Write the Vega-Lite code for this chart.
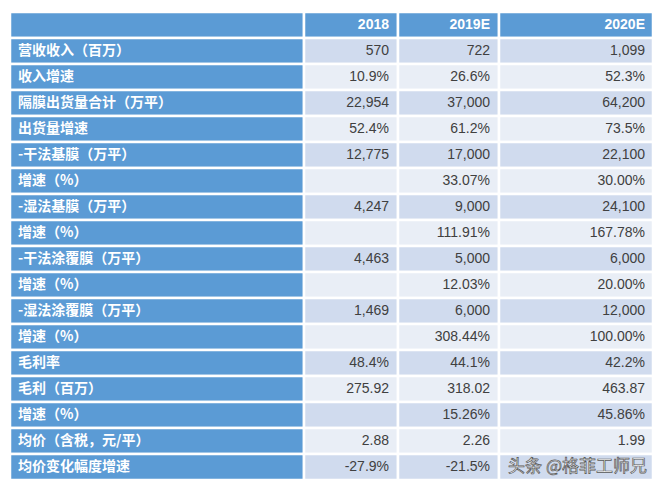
{
  "$schema": "https://vega.github.io/schema/vega-lite/v6.json",
  "padding": {"left": 8, "top": 10, "right": 0, "bottom": 0},
  "background": "white",
  "bounds": "flush",
  "config": {"view": {"stroke": null}, "concat": {"spacing": 0}},
  "spacing": 0,
  "datasets": {
    "rows": [
      {"r": 0, "label": "", "v2018": "2018", "v2019": "2019E", "v2020": "2020E"},
      {"r": 1, "label": "营收收入（百万）", "v2018": "570", "v2019": "722", "v2020": "1,099"},
      {"r": 2, "label": "收入增速", "v2018": "10.9%", "v2019": "26.6%", "v2020": "52.3%"},
      {"r": 3, "label": "隔膜出货量合计（万平）", "v2018": "22,954", "v2019": "37,000", "v2020": "64,200"},
      {"r": 4, "label": "出货量增速", "v2018": "52.4%", "v2019": "61.2%", "v2020": "73.5%"},
      {"r": 5, "label": "-干法基膜（万平）", "v2018": "12,775", "v2019": "17,000", "v2020": "22,100"},
      {"r": 6, "label": "增速（%）", "v2018": "", "v2019": "33.07%", "v2020": "30.00%"},
      {"r": 7, "label": "-湿法基膜（万平）", "v2018": "4,247", "v2019": "9,000", "v2020": "24,100"},
      {"r": 8, "label": "增速（%）", "v2018": "", "v2019": "111.91%", "v2020": "167.78%"},
      {"r": 9, "label": "-干法涂覆膜（万平）", "v2018": "4,463", "v2019": "5,000", "v2020": "6,000"},
      {"r": 10, "label": "增速（%）", "v2018": "", "v2019": "12.03%", "v2020": "20.00%"},
      {"r": 11, "label": "-湿法涂覆膜（万平）", "v2018": "1,469", "v2019": "6,000", "v2020": "12,000"},
      {"r": 12, "label": "增速（%）", "v2018": "", "v2019": "308.44%", "v2020": "100.00%"},
      {"r": 13, "label": "毛利率", "v2018": "48.4%", "v2019": "44.1%", "v2020": "42.2%"},
      {"r": 14, "label": "毛利（百万）", "v2018": "275.92", "v2019": "318.02", "v2020": "463.87"},
      {"r": 15, "label": "增速（%）", "v2018": "", "v2019": "15.26%", "v2020": "45.86%"},
      {"r": 16, "label": "均价（含税，元/平）", "v2018": "2.88", "v2019": "2.26", "v2020": "1.99"},
      {"r": 17, "label": "均价变化幅度增速", "v2018": "-27.9%", "v2019": "-21.5%", "v2020": ""}
    ],
    "mark": [{"r": 17, "text": "头条 @格菲工师兄"}]
  },
  "hconcat": [
    {
      "width": 294, "height": 468,
      "data": {"name": "rows"},
      "encoding": {"y": {"field": "r", "type": "ordinal", "axis": null, "scale": {"paddingInner": 0, "paddingOuter": 0}}},
      "layer": [
        {"mark": {"type": "rect", "fill": "#5B9BD5", "stroke": "white", "strokeWidth": 2.5},
         "encoding": {"x": {"datum": 0, "type": "quantitative", "scale": {"domain": [0, 1]}, "axis": null}, "x2": {"datum": 1}}},
        {"mark": {"type": "text", "align": "left", "baseline": "middle", "dx": 8, "font": "Noto Sans CJK SC", "fontWeight": "bold", "fontSize": 14, "color": "white"},
         "encoding": {"x": {"datum": 0, "type": "quantitative"}, "text": {"field": "label"}}}
      ]
    },
    {
      "width": 94, "height": 468,
      "data": {"name": "rows"},
      "encoding": {"y": {"field": "r", "type": "ordinal", "axis": null, "scale": {"paddingInner": 0, "paddingOuter": 0}}},
      "layer": [
        {"mark": {"type": "rect", "stroke": "white", "strokeWidth": 2.5},
         "encoding": {"x": {"datum": 0, "type": "quantitative", "scale": {"domain": [0, 1]}, "axis": null}, "x2": {"datum": 1},
           "fill": {"condition": [{"test": "datum.r === 0", "value": "#5B9BD5"}, {"test": "datum.r % 2 === 1", "value": "#D0DBEE"}], "value": "#E9EEF6"}}},
        {"transform": [{"filter": "datum.r === 0"}],
         "mark": {"type": "text", "align": "right", "baseline": "middle", "dx": -9, "font": "Liberation Sans", "fontWeight": "bold", "fontSize": 14, "color": "white"},
         "encoding": {"x": {"datum": 1, "type": "quantitative"}, "text": {"field": "v2018"}}},
        {"transform": [{"filter": "datum.r > 0"}],
         "mark": {"type": "text", "align": "right", "baseline": "middle", "dx": -9, "font": "Liberation Sans", "fontSize": 14, "color": "#404040"},
         "encoding": {"x": {"datum": 1, "type": "quantitative"}, "text": {"field": "v2018"}}}
      ]
    },
    {
      "width": 101, "height": 468,
      "data": {"name": "rows"},
      "encoding": {"y": {"field": "r", "type": "ordinal", "axis": null, "scale": {"paddingInner": 0, "paddingOuter": 0}}},
      "layer": [
        {"mark": {"type": "rect", "stroke": "white", "strokeWidth": 2.5},
         "encoding": {"x": {"datum": 0, "type": "quantitative", "scale": {"domain": [0, 1]}, "axis": null}, "x2": {"datum": 1},
           "fill": {"condition": [{"test": "datum.r === 0", "value": "#5B9BD5"}, {"test": "datum.r % 2 === 1", "value": "#D0DBEE"}], "value": "#E9EEF6"}}},
        {"transform": [{"filter": "datum.r === 0"}],
         "mark": {"type": "text", "align": "right", "baseline": "middle", "dx": -9, "font": "Liberation Sans", "fontWeight": "bold", "fontSize": 14, "color": "white"},
         "encoding": {"x": {"datum": 1, "type": "quantitative"}, "text": {"field": "v2019"}}},
        {"transform": [{"filter": "datum.r > 0"}],
         "mark": {"type": "text", "align": "right", "baseline": "middle", "dx": -9, "font": "Liberation Sans", "fontSize": 14, "color": "#404040"},
         "encoding": {"x": {"datum": 1, "type": "quantitative"}, "text": {"field": "v2019"}}}
      ]
    },
    {
      "width": 154, "height": 468,
      "encoding": {"y": {"field": "r", "type": "ordinal", "axis": null, "scale": {"paddingInner": 0, "paddingOuter": 0}}},
      "layer": [
        {"data": {"name": "rows"},
         "mark": {"type": "rect", "stroke": "white", "strokeWidth": 2.5},
         "encoding": {"x": {"datum": 0, "type": "quantitative", "scale": {"domain": [0, 1]}, "axis": null}, "x2": {"datum": 1},
           "fill": {"condition": [{"test": "datum.r === 0", "value": "#5B9BD5"}, {"test": "datum.r % 2 === 1", "value": "#D0DBEE"}], "value": "#E9EEF6"}}},
        {"data": {"name": "rows"},
         "transform": [{"filter": "datum.r === 0"}],
         "mark": {"type": "text", "align": "right", "baseline": "middle", "dx": -8, "font": "Liberation Sans", "fontWeight": "bold", "fontSize": 14, "color": "white"},
         "encoding": {"x": {"datum": 1, "type": "quantitative"}, "text": {"field": "v2020"}}},
        {"data": {"name": "rows"},
         "transform": [{"filter": "datum.r > 0"}],
         "mark": {"type": "text", "align": "right", "baseline": "middle", "dx": -8, "font": "Liberation Sans", "fontSize": 14, "color": "#404040"},
         "encoding": {"x": {"datum": 1, "type": "quantitative"}, "text": {"field": "v2020"}}},
        {"data": {"name": "mark"},
         "mark": {"type": "text", "align": "right", "baseline": "middle", "dx": -6, "font": "Noto Sans CJK SC", "fontSize": 17, "fill": "white", "stroke": "#555555", "strokeWidth": 0.7},
         "encoding": {"x": {"datum": 1, "type": "quantitative"}, "text": {"field": "text"}}}
      ]
    }
  ]
}
